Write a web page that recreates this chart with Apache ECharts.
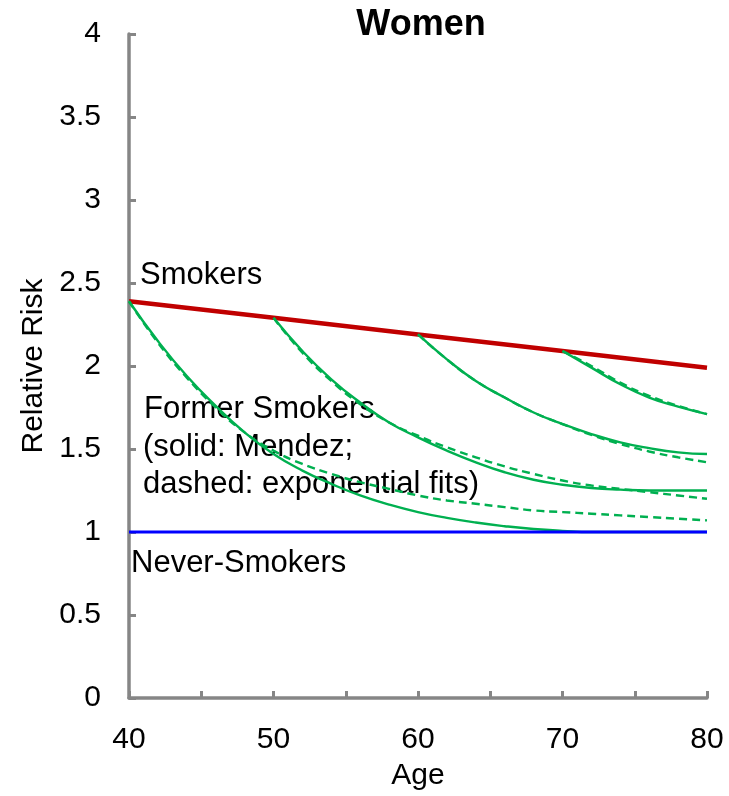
<!DOCTYPE html>
<html>
<head>
<meta charset="utf-8">
<script src="https://cdn.jsdelivr.net/npm/echarts@6/dist/echarts.min.js"></script>
<style>
  html, body { margin: 0; padding: 0; background: #ffffff; }
  #chart { width: 729px; height: 796px; }
</style>
</head>
<body>
<div id="chart"></div>
<script>
// ---- Data ----
const xTicks = [40, 45, 50, 55, 60, 65, 70, 75, 80];
const yTicks = [0, 0.5, 1, 1.5, 2, 2.5, 3, 3.5, 4];

const smokerAges = [40, 50, 60, 70, 80];
const smokerRR = [2.39, 2.29, 2.19, 2.09, 1.99];

const neverAges = [40, 80];
const neverRR = [1.0, 1.0];

const quit40Ages = [40, 42, 44, 46, 48, 50, 52, 54, 56, 58, 60, 62, 64, 66, 68, 70, 72, 74, 76, 78, 80];
const quit40Solid = [2.39, 2.15, 1.94, 1.76, 1.60, 1.47, 1.37, 1.29, 1.22, 1.165, 1.12, 1.085, 1.057, 1.035, 1.018, 1.007, 1.00, 1.00, 1.00, 1.00, 1.00];
const quit40Dashed = [2.39, 2.14, 1.93, 1.75, 1.60, 1.49, 1.41, 1.35, 1.30, 1.26, 1.22, 1.19, 1.17, 1.15, 1.13, 1.12, 1.11, 1.10, 1.09, 1.08, 1.07];

const quit50Ages = [50, 52, 54, 56, 58, 60, 62, 64, 66, 68, 70, 72, 74, 76, 78, 80];
const quit50Solid = [2.29, 2.09, 1.92, 1.78, 1.66, 1.57, 1.49, 1.42, 1.36, 1.315, 1.285, 1.265, 1.255, 1.25, 1.25, 1.25];
const quit50Dashed = [2.29, 2.08, 1.91, 1.77, 1.66, 1.58, 1.51, 1.45, 1.395, 1.35, 1.31, 1.28, 1.26, 1.24, 1.22, 1.20];

const quit60Ages = [60, 62, 64, 66, 68, 70, 72, 74, 76, 78, 80];
const quit60Solid = [2.19, 2.04, 1.91, 1.81, 1.72, 1.65, 1.59, 1.54, 1.505, 1.48, 1.47];
const quit60Dashed = [2.19, 2.04, 1.91, 1.81, 1.72, 1.65, 1.585, 1.53, 1.485, 1.45, 1.42];

const quit70Ages = [70, 72, 74, 76, 78, 80];
const quit70Solid = [2.09, 1.99, 1.89, 1.81, 1.755, 1.71];
const quit70Dashed = [2.09, 2.00, 1.90, 1.82, 1.76, 1.71];

const titleText = 'Women';
const xName = 'Age';
const yName = 'Relative Risk';

// ---- Build chart ----
const FONT = "'Liberation Sans', Arial, sans-serif";
const pairs = (xs, ys) => xs.map((x, i) => [x, ys[i]]);

const RED = '#C00000', GREEN = '#00B050', BLUE = '#0000FF', AXIS = '#868686';

function formerSeries(xs, ys, dashed) {
  return {
    type: 'line',
    data: pairs(xs, ys),
    smooth: 0.5,
    showSymbol: false,
    symbol: 'none',
    lineStyle: { color: GREEN, width: 2.4, type: dashed ? [8, 5] : 'solid' },
    z: 2,
    animation: false
  };
}

const chart = echarts.init(document.getElementById('chart'), null, { renderer: 'canvas' });
chart.setOption({
  animation: false,
  backgroundColor: '#ffffff',
  grid: { left: 129, right: 22, top: 34, bottom: 96, containLabel: false },
  xAxis: {
    type: 'value',
    min: xTicks[0], max: xTicks[xTicks.length - 1], interval: 5,
    name: xName, nameLocation: 'middle', nameGap: 63,
    nameTextStyle: { fontFamily: FONT, fontSize: 30, color: '#000' },
    axisLine: { show: true, lineStyle: { color: AXIS, width: 3.5 } },
    axisTick: { show: true, inside: true, length: 7, lineStyle: { color: AXIS, width: 3 } },
    axisLabel: {
      margin: 27, fontFamily: FONT, fontSize: 30, color: '#000',
      formatter: v => (v % 10 === 0 ? String(v) : '')
    },
    splitLine: { show: false }
  },
  yAxis: {
    type: 'value',
    min: yTicks[0], max: yTicks[yTicks.length - 1], interval: 0.5,
    name: yName, nameLocation: 'middle', nameGap: 78,
    nameTextStyle: { fontFamily: FONT, fontSize: 30, color: '#000' },
    axisLine: { show: true, lineStyle: { color: AXIS, width: 3.5 } },
    axisTick: { show: true, inside: true, length: 7, lineStyle: { color: AXIS, width: 3 } },
    axisLabel: { margin: 28, fontFamily: FONT, fontSize: 30, color: '#000' },
    splitLine: { show: false }
  },
  series: [
    formerSeries(quit40Ages, quit40Dashed, true),
    formerSeries(quit50Ages, quit50Dashed, true),
    formerSeries(quit60Ages, quit60Dashed, true),
    formerSeries(quit70Ages, quit70Dashed, true),
    formerSeries(quit40Ages, quit40Solid, false),
    formerSeries(quit50Ages, quit50Solid, false),
    formerSeries(quit60Ages, quit60Solid, false),
    formerSeries(quit70Ages, quit70Solid, false),
    {
      type: 'line', data: pairs(neverAges, neverRR), symbol: 'none',
      lineStyle: { color: BLUE, width: 3 }, z: 3
    },
    {
      type: 'line', data: pairs(smokerAges, smokerRR), symbol: 'none',
      lineStyle: { color: RED, width: 4.5 }, z: 1
    }
  ],
  graphic: [
    { type: 'text', x: 421, y: 25, style: { text: titleText, font: "bold 36px " + FONT, fill: '#000', align: 'center', verticalAlign: 'middle' } },
    { type: 'text', x: 140, y: 275, style: { text: 'Smokers', font: "31px " + FONT, fill: '#000', verticalAlign: 'middle' } },
    { type: 'text', x: 144, y: 409, style: { text: 'Former Smokers', font: "31px " + FONT, fill: '#000', verticalAlign: 'middle' } },
    { type: 'text', x: 143, y: 447, style: { text: '(solid: Mendez;', font: "31px " + FONT, fill: '#000', verticalAlign: 'middle' } },
    { type: 'text', x: 143, y: 484, style: { text: 'dashed: exponential fits)', font: "31px " + FONT, fill: '#000', verticalAlign: 'middle' } },
    { type: 'text', x: 131, y: 563, style: { text: 'Never-Smokers', font: "31px " + FONT, fill: '#000', verticalAlign: 'middle' } }
  ]
});
</script>
</body>
</html>
